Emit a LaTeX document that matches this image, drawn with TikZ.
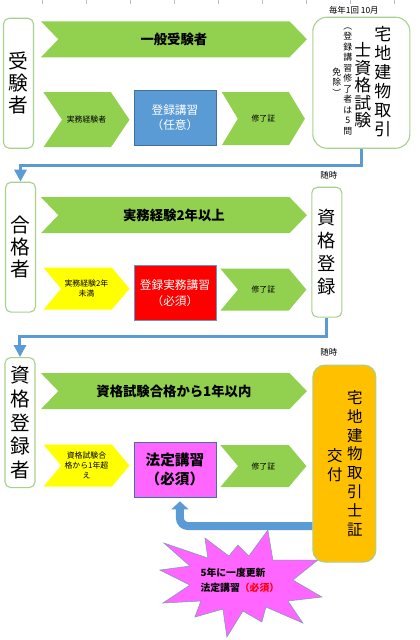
\documentclass[tikz,border=0pt]{standalone}
\usepackage{fontspec}
\setmainfont{Noto Sans CJK JP}
\usetikzlibrary{positioning, shapes.symbols, arrows.meta}
\definecolor{jpgreen}{HTML}{92D050}
\definecolor{jpline}{HTML}{A9D18E}
\definecolor{jpblue}{HTML}{5B9BD5}
\definecolor{jpdkblue}{HTML}{41719C}
\definecolor{jpred}{HTML}{FF0000}
\definecolor{jppink}{HTML}{FF66FF}
\definecolor{jpyellow}{HTML}{FFFF00}
\definecolor{jporange}{HTML}{FFC000}

\begin{document}
\begin{tikzpicture}[x=0.025cm, y=-0.025cm,
    side/.style={draw=jpline, thick, fill=white, rounded corners=4pt, minimum width=0.75cm, minimum height=3.25cm, inner sep=0pt, align=center, font=\fontsize{14}{15.6}\selectfont},
    chev/.style={shape=signal, signal from=west, signal to=east, fill=jpgreen, inner sep=0pt, align=center},
    longchev/.style={chev, minimum width=6.65cm, minimum height=0.9cm, signal pointer angle=92, font=\fontsize{9.5}{11}\selectfont\bfseries},
    shortchev/.style={chev, minimum width=2.15cm, minimum height=1.05cm, signal pointer angle=100, font=\fontsize{5.6}{7}\selectfont},
    course/.style={draw=jpdkblue, minimum width=2.05cm, minimum height=1.375cm, inner sep=0pt, align=center},
    col/.style={inner sep=0pt, align=center},
    note/.style={font=\fontsize{6}{7}\selectfont, inner sep=0pt},
    flow/.style={jpblue, line width=0.075cm, -{Triangle[width=0.3cm, length=0.3cm]}}]
  \fill[white] (0,0) rectangle (420,640);
  % ruler ticks at the top
  \foreach \tx in {0,...,8}
    \draw[black!25] (42.3+44*\tx,0) -- ++(0,4);

  % examinees
  \node[side] (exam) at (18.5,83) {受\\験\\者};
  \node[longchev] (ippan) at (174,39) {一般受験者};
  \node[shortchev, minimum height=1.375cm, signal pointer angle=112] (jitsumu) at (86.5,119.5) {実務経験者};
  \node[course, fill=jpblue, text=white, font=\fontsize{8.3}{10.7}\selectfont] (kosyu) at (175,117.5) {登録講習\\（任意）};
  \node[shortchev, minimum width=2.075cm, minimum height=1.325cm, signal pointer angle=118] (shuryoA) at (263.5,118.5) {修了証};
  \node[draw=jpline, thick, fill=white, rounded corners=0.35cm, minimum width=2.425cm, minimum height=3.275cm] (shiken) at (361.5,82.5) {};
  \node[col, font=\fontsize{12}{13.5}\selectfont] (shikenA) at (383,81) {宅\\地\\建\\物\\取\\引};
  \node[col, font=\fontsize{12}{12.4}\selectfont] (shikenB) at (363,85) {士\\資\\格\\試\\験};
  \node[col, font=\fontsize{6.3}{7.5}\selectfont] (shikenC) at (348,81) {︵\\登\\録\\講\\習\\修\\了\\者\\は\\5\\問};
  \node[col, font=\fontsize{6.3}{7.5}\selectfont] (shikenD) at (337,82) {免\\除\\︶};
  \node[note] (yearly) at (354,10) {毎年1回\ 10月};

  % passers
  \node[side] (goukaku) at (20.5,247) {合\\格\\者};
  \node[longchev] (nenijo) at (174,215) {実務経験2年以上};
  \node[shortchev, fill=jpyellow] (miman) at (86.5,288.5) {実務経験2年\\未満};
  \node[course, fill=jpred, draw=jpblue, text=white, font=\fontsize{8.3}{10.7}\selectfont] (jkosyu) at (175,293) {登録実務講習\\（必須）};
  \node[shortchev] (shuryoB) at (263.5,289.5) {修了証};
  \node[side, font=\fontsize{13}{16.5}\selectfont] (touroku) at (327,252) {資\\格\\登\\録};
  \node[note] (zuijiA) at (329,175) {随時};

  % registered
  \node[side, font=\fontsize{14}{17}\selectfont] (tourokusha) at (20,422.5) {資\\格\\登\\録\\者};
  \node[longchev] (ichinen) at (174,391) {資格試験合格から1年以内};
  \node[shortchev, fill=jpyellow] (koe) at (86.5,465.5) {資格試験合\\格から1年超\\え};
  \node[course, fill=jppink, font=\fontsize{10.4}{13}\selectfont\bfseries] (houtei) at (175,469.5) {法定講習\\（必須）};
  \node[shortchev] (shuryoC) at (263.5,466) {修了証};
  \node[draw=jpline, thick, fill=jporange, rounded corners=0.3cm, minimum width=1.575cm, minimum height=4.925cm] (koufu) at (344.5,463.5) {};
  \node[col, font=\fontsize{11}{13.5}\selectfont] (koufuA) at (355,463.5) {宅\\地\\建\\物\\取\\引\\士\\証};
  \node[col, font=\fontsize{11}{13.5}\selectfont] (koufuB) at (335,465) {交\\付};
  \node[note] (zuijiB) at (329,352) {随時};

  \draw[flow] (shiken.south) -- ++(0,17) -| (goukaku.north);
  \draw[flow] (touroku.south) -- ++(0,19) -| (tourokusha.north);
  \draw[jpblue, line width=0.2cm, rounded corners=0.2cm, shorten >=0.1cm, -{Triangle[width=0.42cm, length=0.2cm]}]
    (koufu.west |- 0,526) -| ([xshift=0.125cm]houtei.south);

  % renewal burst
  \begin{scope}[shift={(242,583)}]
    \draw[fill=jppink, draw=jpdkblue!70] (-78,-40) -- (-34,-25) -- (-37,-45) -- (-13,-27) -- (-4,-38) -- (7,-27)
      -- (26,-53) -- (31,-23) -- (76,-23) -- (51,-3) -- (80,14) -- (46,18) -- (61,40) -- (24,24)
      -- (20,39) -- (1,28) -- (-15,54) -- (-19,26) -- (-47,34) -- (-41,18) -- (-79,20) -- (-52,2)
      -- (-82,-13) -- (-52,-17) -- cycle;
    \node[inner sep=0pt, align=left, font=\fontsize{7}{10.7}\selectfont\bfseries] (renew) at (-2,-3) {5年に一度更新\\法定講習{\color{jpred}（必須）}};
  \end{scope}
\end{tikzpicture}
\end{document}
